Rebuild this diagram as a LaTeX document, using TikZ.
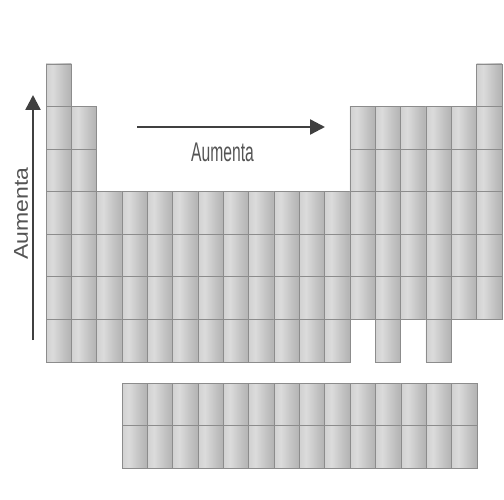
\documentclass[tikz,border=0pt]{standalone}
\usepackage{fontspec}
\setmainfont{Liberation Sans}
\usetikzlibrary{arrows.meta}
\definecolor{cA}{gray}{0.82}
\definecolor{cB}{gray}{0.86}
\definecolor{cC}{gray}{0.76}
\definecolor{cD}{gray}{0.70}
\definecolor{edgec}{gray}{0.55}
\definecolor{arrc}{gray}{0.25}
\definecolor{txtc}{gray}{0.33}
\pgfdeclarehorizontalshading{cellsh}{100bp}{color(0bp)=(cA); color(25bp)=(cA); color(38bp)=(cB); color(60bp)=(cC); color(75bp)=(cD); color(100bp)=(cD)}
\tikzset{
  cell/.style={shading=cellsh, draw=edgec, line width=0.8pt},
  trend/.style={draw=arrc, line width=2.4pt, -{Triangle[length=15pt,width=15pt]}},
  lbl/.style={text=txtc, inner sep=0pt}
}
\begin{document}
\begin{tikzpicture}[x=1pt,y=-1pt]
\useasboundingbox (0,0) rectangle (504,500);
% main table
\def\cellw{25.33}
\def\cellh{42.57}
\foreach \r/\cl in {0/{1,18},1/{1,2,13,14,15,16,17,18},2/{1,2,13,14,15,16,17,18},3/{1,...,18},4/{1,...,18},5/{1,...,18},6/{1,...,12,14,16}}{
  \foreach \c in \cl {
    \shade[cell] ({46+(\c-1)*\cellw},{64+\r*\cellh}) rectangle ++(\cellw,\cellh);
  }
}
% lanthanides / actinides
\foreach \r in {0,1}{
  \foreach \c in {1,...,14}{
    \shade[cell] ({122+(\c-1)*25.36},{383+\r*42.5}) rectangle ++(25.36,42.5);
  }
}
% arrows
\coordinate (vb) at (33,340);
\coordinate (vt) at (33,95);
\coordinate (hl) at (137,127);
\coordinate (hr) at (325,127);
\draw[trend] (vb) -- (vt);
\draw[trend] (hl) -- (hr);
\node[lbl] (hlab) at (222.5,152.5) {\fontsize{27}{27}\selectfont\scalebox{0.58}[1]{Aumenta}};
\node[lbl, rotate=90] (vlab) at (21,213.5) {\fontsize{20}{20}\selectfont\scalebox{1.15}[1]{Aumenta}};
\end{tikzpicture}
\end{document}
